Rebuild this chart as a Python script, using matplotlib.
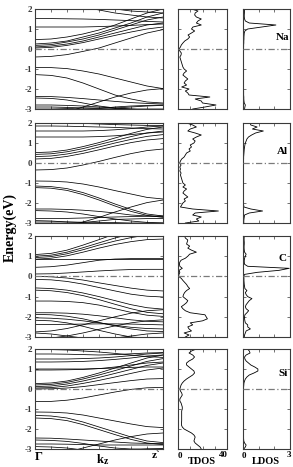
import numpy as np
import matplotlib
matplotlib.use('Agg')
import matplotlib.pyplot as plt

# ---------------- data ----------------
K = [0, 0.125, 0.25, 0.375, 0.5, 0.625, 0.75, 0.875, 1.0]
E_GRID = np.round(np.arange(-3.0, 2.001, 0.1), 2)   # DOS energy grid (51 pts)

ELEMENTS = ["Na", "Al", "C", "Si"]

BANDS_NA = [
    [2.6, 2.45, 2.3, 2.1, 1.95, 1.8, 1.7, 1.6, 1.55],
    [2.3, 2.3, 2.25, 2.2, 2.1, 2.0, 1.9, 1.85, 1.8],
    [1.52, 1.52, 1.51, 1.5, 1.48, 1.45, 1.42, 1.38, 1.35],
    [1.1, 1.1, 1.1, 1.1, 1.12, 1.15, 1.18, 1.22, 1.25],
    [0.47, 0.5, 0.6, 0.75, 0.95, 1.2, 1.5, 1.8, 2.0],
    [0.25, 0.3, 0.4, 0.6, 0.8, 1.05, 1.3, 1.6, 1.8],
    [0.18, 0.22, 0.35, 0.5, 0.7, 0.95, 1.2, 1.45, 1.6],
    [0.1, 0.15, 0.25, 0.4, 0.6, 0.8, 1.0, 1.2, 1.3],
    [0.05, 0.08, 0.18, 0.32, 0.5, 0.68, 0.85, 1.0, 1.1],
    [-0.4, -0.37, -0.28, -0.12, 0.05, 0.3, 0.55, 0.8, 0.97],
    [-0.92, -0.93, -0.98, -1.1, -1.25, -1.45, -1.65, -1.85, -1.98],
    [-1.28, -1.32, -1.45, -1.7, -2.0, -2.3, -2.5, -2.65, -2.7],
    [-2.37, -2.38, -2.42, -2.48, -2.55, -2.62, -2.68, -2.72, -2.75],
    [-2.45, -2.47, -2.55, -2.7, -2.85, -2.95, -2.9, -2.85, -2.82],
    [-3.5, -3.35, -3.15, -2.9, -2.65, -2.4, -2.2, -2.05, -1.98],
    [-2.8, -2.8, -2.82, -2.85, -2.9, -2.95, -3.0, -3.0, -3.0],
    [-2.9, -2.9, -2.92, -2.95, -2.98, -2.9, -2.85, -2.82, -2.8],
    [-3.0, -3.0, -2.98, -2.95, -2.95, -2.97, -3.0, -3.05, -3.1],
]

BANDS_AL = [
    [2.0, 2.0, 2.0, 1.98, 1.95, 1.92, 1.9, 1.88, 1.87],
    [1.85, 1.85, 1.84, 1.82, 1.8, 1.78, 1.75, 1.72, 1.7],
    [1.6, 1.6, 1.6, 1.6, 1.62, 1.66, 1.72, 1.8, 1.85],
    [1.3, 1.3, 1.3, 1.3, 1.32, 1.36, 1.42, 1.5, 1.55],
    [0.52, 0.55, 0.65, 0.82, 1.02, 1.25, 1.48, 1.68, 1.8],
    [0.43, 0.46, 0.56, 0.72, 0.92, 1.12, 1.32, 1.5, 1.6],
    [0.32, 0.35, 0.45, 0.6, 0.8, 1.0, 1.18, 1.33, 1.42],
    [0.2, 0.23, 0.33, 0.48, 0.66, 0.85, 1.02, 1.15, 1.22],
    [-0.35, -0.33, -0.25, -0.1, 0.08, 0.28, 0.47, 0.62, 0.7],
    [-0.9, -0.91, -0.95, -1.05, -1.2, -1.38, -1.55, -1.72, -1.8],
    [-1.15, -1.18, -1.28, -1.48, -1.75, -2.05, -2.32, -2.55, -2.65],
    [-1.23, -1.26, -1.37, -1.58, -1.85, -2.15, -2.42, -2.62, -2.72],
    [-2.3, -2.3, -2.32, -2.36, -2.42, -2.5, -2.6, -2.65, -2.68],
    [-2.38, -2.4, -2.45, -2.55, -2.68, -2.8, -2.9, -2.97, -3.0],
    [-3.4, -3.3, -3.15, -2.95, -2.72, -2.45, -2.2, -1.98, -1.85],
    [-2.78, -2.78, -2.77, -2.75, -2.72, -2.7, -2.68, -2.66, -2.65],
    [-2.88, -2.9, -2.95, -2.98, -2.9, -2.82, -2.8, -2.78, -2.78],
    [-2.95, -2.95, -2.95, -2.96, -2.97, -2.98, -3.0, -3.0, -3.0],
]

BANDS_C = [
    [1.08, 1.14, 1.3, 1.55, 1.82, 2.1, 2.3, 2.45, 2.5],
    [1.0, 1.05, 1.2, 1.42, 1.66, 1.9, 2.1, 2.25, 2.3],
    [0.93, 0.98, 1.12, 1.32, 1.55, 1.75, 1.92, 2.05, 2.1],
    [0.85, 0.9, 1.02, 1.2, 1.4, 1.58, 1.72, 1.82, 1.85],
    [0.45, 0.48, 0.56, 0.68, 0.8, 0.86, 0.88, 0.88, 0.88],
    [0.88, 0.88, 0.88, 0.88, 0.88, 0.88, 0.88, 0.88, 0.88],
    [0.12, 0.13, 0.17, 0.22, 0.27, 0.31, 0.34, 0.35, 0.35],
    [0.0, -0.02, -0.08, -0.18, -0.32, -0.45, -0.58, -0.68, -0.72],
    [-0.15, -0.17, -0.25, -0.38, -0.55, -0.72, -0.88, -0.98, -1.02],
    [-0.57, -0.6, -0.68, -0.82, -1.0, -1.2, -1.4, -1.55, -1.62],
    [-0.68, -0.71, -0.8, -0.95, -1.15, -1.38, -1.6, -1.78, -1.85],
    [-1.22, -1.22, -1.24, -1.3, -1.42, -1.6, -1.78, -1.92, -1.98],
    [-1.8, -1.8, -1.82, -1.87, -1.95, -2.05, -2.15, -2.22, -2.25],
    [-1.88, -1.9, -1.97, -2.1, -2.28, -2.45, -2.6, -2.7, -2.73],
    [-2.05, -2.07, -2.12, -2.2, -2.3, -2.42, -2.52, -2.58, -2.6],
    [-2.17, -2.2, -2.3, -2.47, -2.67, -2.85, -3.0, -3.05, -3.05],
    [-2.75, -2.7, -2.58, -2.4, -2.2, -2.0, -1.82, -1.7, -1.65],
    [-3.1, -3.05, -2.95, -2.8, -2.62, -2.45, -2.3, -2.2, -2.15],
    [-2.38, -2.38, -2.37, -2.36, -2.35, -2.35, -2.36, -2.38, -2.4],
    [-2.8, -2.85, -2.95, -3.05, -3.1, -3.05, -2.95, -2.85, -2.8],
]

BANDS_SI = [
    [1.98, 1.97, 1.95, 1.9, 1.85, 1.78, 1.7, 1.62, 1.58],
    [1.75, 1.75, 1.74, 1.72, 1.7, 1.72, 1.76, 1.8, 1.82],
    [1.5, 1.5, 1.5, 1.52, 1.55, 1.6, 1.67, 1.75, 1.8],
    [1.35, 1.35, 1.36, 1.38, 1.42, 1.48, 1.55, 1.65, 1.7],
    [1.0, 1.0, 1.0, 1.0, 1.02, 1.05, 1.08, 1.1, 1.1],
    [0.95, 0.95, 0.96, 0.98, 1.02, 1.1, 1.2, 1.3, 1.35],
    [0.27, 0.3, 0.4, 0.58, 0.8, 1.05, 1.3, 1.55, 1.7],
    [0.2, 0.23, 0.33, 0.5, 0.7, 0.92, 1.15, 1.38, 1.52],
    [0.12, 0.15, 0.25, 0.4, 0.58, 0.78, 0.98, 1.18, 1.3],
    [0.05, 0.07, 0.15, 0.28, 0.43, 0.6, 0.78, 0.95, 1.05],
    [0.0, 0.01, 0.05, 0.12, 0.22, 0.32, 0.42, 0.5, 0.52],
    [-0.63, -0.62, -0.56, -0.45, -0.3, -0.15, -0.02, 0.06, 0.08],
    [-1.15, -1.16, -1.2, -1.3, -1.45, -1.6, -1.75, -1.88, -1.93],
    [-1.32, -1.35, -1.45, -1.65, -1.9, -2.15, -2.4, -2.6, -2.68],
    [-1.45, -1.48, -1.58, -1.78, -2.03, -2.28, -2.52, -2.7, -2.78],
    [-2.45, -2.46, -2.5, -2.55, -2.6, -2.65, -2.7, -2.72, -2.73],
    [-2.55, -2.57, -2.62, -2.72, -2.85, -2.95, -3.0, -3.0, -2.98],
    [-3.4, -3.3, -3.15, -2.95, -2.75, -2.55, -2.38, -2.25, -2.2],
    [-2.75, -2.75, -2.76, -2.78, -2.8, -2.8, -2.8, -2.8, -2.8],
    [-2.88, -2.9, -2.95, -3.05, -3.1, -3.1, -3.05, -3.0, -3.0],
]

# DOS values on E_GRID (from -3.0 eV up to 2.0 eV)
TDOS_NA = [12, 22, 31, 20, 19, 14, 26, 9, 8, 6,
           9, 3, 7, 5, 6, 8, 6, 4, 5, 7,
           5, 4, 3.5, 3, 2.5, 2, 1.5, 2.5, 2.7, 1.5,
           0.8, 2, 2.7, 4, 5.5, 8, 9.5, 8.2, 11, 13.6,
           11, 12.2, 19, 15, 16.3, 19, 15, 13.6, 14, 16.3,
           11]
LDOS_NA = [0.1, 0.12, 0.15, 0.08, 0.06, 0.05, 0.05, 0.04, 0.04, 0.04,
           0.03, 0.03, 0.03, 0.03, 0.03, 0.03, 0.03, 0.03, 0.03, 0.03,
           0.03, 0.03, 0.03, 0.03, 0.03, 0.03, 0.03, 0.03, 0.03, 0.03,
           0.03, 0.04, 0.04, 0.05, 0.05, 0.06, 0.06, 0.07, 0.08, 0.12,
           0.3, 1.2, 2.1, 0.4, 0.15, 0.1, 0.08, 0.08, 0.09, 0.1,
           0.1]
TDOS_AL = [6, 17, 15, 19, 12, 14, 33, 12, 2, 3,
           4, 6, 5, 8, 6, 4, 5, 7, 4, 6,
           4, 3.5, 3, 2.5, 2, 2.5, 1.5, 2, 1.5, 2.5,
           1.4, 2, 3, 5, 6, 7, 10, 9, 11, 10,
           13, 14, 12, 15, 19, 14, 8, 10, 15, 12,
           7]
LDOS_AL = [0.05, 0.05, 0.06, 0.08, 0.1, 0.4, 1.25, 0.5, 0.06, 0.04,
           0.03, 0.03, 0.03, 0.03, 0.03, 0.03, 0.03, 0.03, 0.03, 0.03,
           0.03, 0.03, 0.03, 0.03, 0.03, 0.03, 0.03, 0.03, 0.03, 0.03,
           0.03, 0.03, 0.04, 0.04, 0.05, 0.06, 0.07, 0.08, 0.1, 0.12,
           0.15, 0.2, 0.25, 0.35, 0.55, 0.8, 1.3, 0.6, 0.9, 0.5,
           0.45]
TDOS_C = [6, 9, 5, 11, 9, 8, 12, 10, 20, 24,
          23, 22, 10, 6, 4, 2.7, 5, 7, 8, 6,
          4, 4.5, 5.4, 7, 9.5, 8, 7, 5.5, 4, 2.7,
          0.5, 0.8, 1.5, 0.8, 3.5, 1.5, 1.2, 1.4, 2.5, 6,
          8, 9.5, 15, 11, 8, 9.5, 7, 7.5, 8, 6,
          5.4]
LDOS_C = [0.08, 0.1, 0.15, 0.2, 0.47, 0.3, 0.3, 0.15, 0.12, 0.1,
          0.1, 0.12, 0.25, 0.36, 0.2, 0.15, 0.2, 0.3, 0.4, 0.57,
          0.3, 0.2, 0.15, 0.25, 0.12, 0.1, 0.08, 0.07, 0.06, 0.06,
          0.05, 0.1, 0.9, 2.3, 2.95, 0.3, 0.1, 0.08, 0.08, 0.1,
          0.15, 0.2, 0.1, 0.08, 0.07, 0.07, 0.08, 0.08, 0.07, 0.07,
          0.08]
TDOS_SI = [19, 18, 16, 14, 13, 13.5, 14, 13, 11, 8,
           5, 3.5, 2.8, 2.8, 3, 3, 3, 3, 3, 3,
           3.5, 3.5, 3, 2.5, 1.5, 1.5, 2.5, 3.5, 3, 2,
           1.5, 2, 2.5, 3.5, 5, 7, 9.5, 12, 13.5, 13,
           11, 9, 7, 7, 9, 12, 13.5, 12, 9, 11,
           15]
LDOS_SI = [0.05, 0.15, 0.2, 0.1, 0.05, 0.04, 0.03, 0.03, 0.03, 0.03,
           0.03, 0.03, 0.03, 0.03, 0.03, 0.03, 0.03, 0.03, 0.03, 0.03,
           0.03, 0.03, 0.03, 0.03, 0.03, 0.03, 0.03, 0.03, 0.03, 0.03,
           0.03, 0.04, 0.05, 0.06, 0.1, 0.15, 0.25, 0.4, 0.7, 0.95,
           0.95, 0.75, 0.5, 0.35, 0.2, 0.12, 0.1, 0.2, 0.45, 0.4,
           0.3]

ALL_BANDS = [BANDS_NA, BANDS_AL, BANDS_C, BANDS_SI]
ALL_TDOS = [TDOS_NA, TDOS_AL, TDOS_C, TDOS_SI]
ALL_LDOS = [LDOS_NA, LDOS_AL, LDOS_C, LDOS_SI]
LABEL_Y = [0.57, 0.55, 0.9, 0.8]

# ---------------- figure ----------------
W, H = 293, 467
fig = plt.figure(figsize=(W / 100, H / 100), dpi=100)
SERIF = ['Liberation Serif', 'DejaVu Serif']
plt.rcParams['font.family'] = SERIF
plt.rcParams['font.weight'] = 'bold'

rows_px = [(9, 109), (123, 223), (236, 337), (349, 449)]
cols_px = [(35, 163), (178, 227), (243, 290)]
SP = '#3a3a3a'


def mkax(c, r):
    x0, x1 = cols_px[c]
    y0, y1 = rows_px[r]
    return fig.add_axes([x0 / W, 1 - y1 / H, (x1 - x0) / W, (y1 - y0) / H])


def style(ax):
    for s in ax.spines.values():
        s.set_linewidth(0.8)
        s.set_color(SP)
    ax.tick_params(direction='in', length=2, width=0.5, top=True, right=True,
                   labelsize=6.5, colors=SP, pad=2)
    ax.set_ylim(-3, 2)
    ax.set_yticks([-3, -2, -1, 0, 1, 2])
    ax.axhline(0, color='#7a7a7a', lw=0.9, ls=(0, (5, 2, 1, 2)), zorder=3)


for r in range(4):
    axb = mkax(0, r)
    for band in ALL_BANDS[r]:
        axb.plot(K, band, color='black', lw=0.55)
    axb.set_xlim(0, 1)
    style(axb)
    axb.set_xticks(K)
    axb.set_xticklabels([])
    axb.set_yticklabels(['-3', '-2', '-1', '0', '1', '2'], fontweight='bold')

    axt = mkax(1, r)
    axt.plot(ALL_TDOS[r], E_GRID, color='black', lw=0.6)
    axt.set_xlim(0, 40)
    style(axt)
    axt.set_xticks([0, 10, 20, 30, 40])
    axt.set_xticklabels([])
    axt.set_yticklabels([])

    axl = mkax(2, r)
    axl.plot(ALL_LDOS[r], E_GRID, color='black', lw=0.6)
    axl.set_xlim(0, 3)
    style(axl)
    axl.set_xticks([0, 1, 2, 3])
    axl.set_xticklabels([])
    axl.set_yticklabels([])
    axl.text(2.55, LABEL_Y[r], ELEMENTS[r], ha='center', va='center',
             fontsize=8, fontweight='bold')

# bottom labels
fig.text(39 / W, 1 - 457 / H, 'Γ', ha='center', va='center', fontsize=9, fontweight='bold')
fig.text(100 / W, 1 - 460 / H, 'k', ha='center', va='center', fontsize=9, fontweight='bold')
fig.text(106 / W, 1 - 462 / H, 'z', ha='center', va='center', fontsize=7, fontweight='bold')
fig.text(156 / W, 1 - 456 / H, 'z`', ha='center', va='center', fontsize=8, fontweight='bold')
fig.text(180 / W, 1 - 456 / H, '0', ha='center', va='center', fontsize=6.5, fontweight='bold')
fig.text(223 / W, 1 - 455 / H, '40', ha='center', va='center', fontsize=6.5, fontweight='bold')
fig.text(202 / W, 1 - 461 / H, 'TDOS', ha='center', va='center', fontsize=7.5, fontweight='bold')
fig.text(244 / W, 1 - 456 / H, '0', ha='center', va='center', fontsize=6.5, fontweight='bold')
fig.text(289 / W, 1 - 455 / H, '3', ha='center', va='center', fontsize=6.5, fontweight='bold')
fig.text(266 / W, 1 - 461 / H, 'LDOS', ha='center', va='center', fontsize=7.5, fontweight='bold')

fig.text(10 / W, 1 - 228 / H, 'Energy(eV)', rotation=90, ha='center', va='center',
         fontsize=10, fontweight='bold')

fig.savefig('out.png', dpi=100, facecolor='white')
